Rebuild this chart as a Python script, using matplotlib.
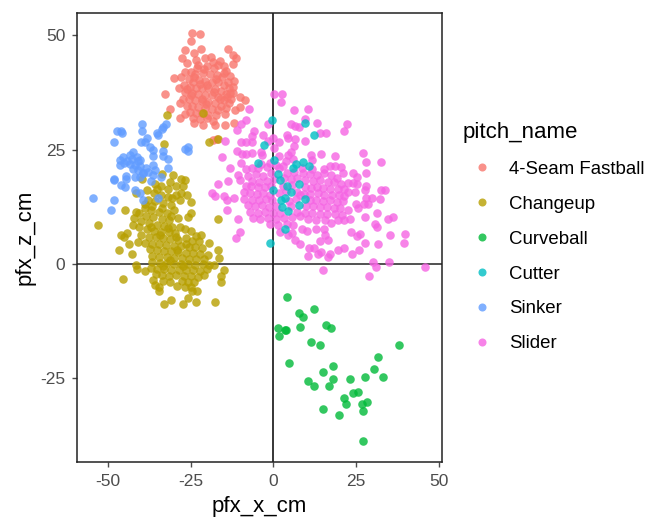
import matplotlib
matplotlib.use("Agg")
import matplotlib.pyplot as plt
from matplotlib.lines import Line2D

plt.rcParams['font.family'] = ['Liberation Sans', 'DejaVu Sans']
plt.rcParams['axes.unicode_minus'] = False

pitch_names = ["4-Seam Fastball", "Changeup", "Curveball", "Cutter", "Sinker", "Slider"]
colors = ["#F8766D", "#B79F00", "#00BA38", "#00BFC4", "#619CFF", "#F564E3"]
x_ticks = [-50, -25, 0, 25, 50]
y_ticks = [-25, 0, 25, 50]

fastball = [(-24.5,50.6),(-22.2,50.3),(-25,48.7),(-26.8,46.7),(-21.8,47),(-13.6,47),(-27.7,45),(-26,43.9),(-24,46.1),(-23.4,44.6),
(-12.3,45.7),(-11.3,45),(-12.3,43.8),(-29.9,40.7),(-28,41),(-26.7,41.9),(-32.6,37.2),(-28.6,38.4),(-28.2,35.2),(-31.2,33.9),
(-28.1,31.9),(-26.6,32.8),(-24,30.9),(-22.2,31.7),(-21.3,30.3),(-18.1,31.3),(-17.6,30.3),(-14.5,30.3),(-11.8,30.9),(-14.6,32.8),
(-10.1,36.5),(-8.5,35.8),(-10.1,34.4),(-11.6,33.7),(-17.1,27.3),(-18.2,27.2),(-20.5,45),(-18.7,45.2),(-16,44.4),(-15,43.3),
(-22.6,43.6),(-19.9,43.2),(-17.8,42.9),(-14.2,42.2),(-13,41.2),(-12,40.1),(-24.9,42.1),(-23.5,41.6),(-21.2,41.8),(-19.1,41.5),
(-17.1,41.3),(-15.4,40.9),(-13.7,39.9),(-12.2,38.8),(-25.6,40.4),(-24.1,39.9),(-22.4,40.3),(-20.6,40.1),(-18.6,39.9),(-16.6,39.8),
(-15,39.2),(-13.4,38.4),(-12.2,37.3),(-27.1,39.2),(-25.3,38.8),(-23.3,38.6),(-21.4,38.6),(-19.6,38.4),(-17.6,38.3),(-15.8,37.9),
(-14.3,37.1),(-12.9,36.2),(-26.7,37.6),(-24.4,37.4),(-22.6,37.2),(-20.5,37),(-18.6,36.9),(-16.8,36.6),(-15,35.9),(-13.4,35.2),
(-27.2,36),(-25.4,36.1),(-23.6,35.9),(-21.6,35.7),(-19.6,35.5),(-17.6,35.2),(-15.9,34.6),(-14.2,34.1),(-26.2,34.6),(-24.6,34.5),
(-22.7,34.3),(-20.6,34.1),(-18.6,33.9),(-16.7,33.6),(-25.2,33.3),(-23.3,33),(-21.4,33),(-19.6,32.7),(-17.4,32.6),(-23.1,42.8),
(-20.9,42.6),(-18.3,44.2),(-16.8,43.5),(-15,41.8),(-22,39.4),(-19.9,39.1),(-17.4,40.5),(-24.8,36.9),(-21.5,36.2),(-18,37.6),
(-26.1,38.2),(-23.9,40.8),(-20.4,34.9),(-16.1,36.1),(-14,36.5),(-13,37.5),(-24.1,32),(-20.1,31.9)]

changeup = [(-53.1,8.5),(-44.9,11.9),(-46.1,6.3),(-45.1,6),(-44.3,6.7),(-46.7,3),(-43.5,4.4),(-42.6,2.3),(-45.3,-3.2),(-41.5,-.2),
(-41.3,-1.1),(-38.9,-1.5),(-36.3,-3.5),(-35.8,-4.6),(-34.4,-5),(-34.4,-5.9),(-33.1,-8.8),(-30.8,-7.9),(-27.2,-8.8),(-25.9,-7.5),
(-23.2,-8.2),(-17.7,-8.2),(-24.5,-6),(-23,-5.8),(-29,-4.9),(-15.8,-3.9),(-15.8,-2.6),(-15,-1.2),(-20.8,-2.3),(-16.3,1.3),
(-16.8,3.1),(-19.8,2),(-19.4,4.7),(-21.4,3.4),(-21.7,6.3),(-16.8,9.9),(-24.9,13.5),(-29.9,11.9),(-24.9,11.1),(-26.2,15.1),
(-26.7,18.4),(-27.8,18.7),(-30.2,19.5),(-41.5,15.5),(-39.6,18.7),(-32.2,32.6),(-21.1,33.1),(-33.1,26.3),(-19.4,26.6),(-16.7,27.3),
(-33.6,19.6),(-31.2,18),(-35.8,17.5),(-33.9,17),(-31.8,16.4),(-29.5,17.1),(-38.1,16.2),(-36,15.6),(-34,15.2),(-31.9,14.7),
(-29.4,15.2),(-27.8,15.5),(-37.9,14.1),(-35.6,13.7),(-33.4,13.3),(-31,13),(-38.6,12.3),(-36.9,11.8),(-34.4,11.3),(-32.2,11.1),
(-40.5,11.1),(-38.4,10.6),(-36.4,10.2),(-33.6,9.8),(-31.4,9.6),(-28.8,10),(-25.7,10.3),(-42,10),(-39.9,9.5),(-37.4,9),
(-35.2,8.6),(-33.1,8.4),(-30.7,8.2),(-28.3,8),(-42.4,8.6),(-40.5,8),(-38.2,7.6),(-36,7.3),(-33.9,7.1),(-31.6,6.9),
(-29.6,6.7),(-26.7,7.7),(-25,7.2),(-23.3,6.2),(-39.9,6.3),(-37.6,6),(-35.5,5.9),(-33.4,5.6),(-31.1,5.4),(-28.8,5.3),
(-26.5,5.6),(-24.6,5),(-22.4,5.1),(-40.9,4.8),(-38.8,4.5),(-36.7,4.4),(-34.6,4.3),(-32.4,4.1),(-30.1,4),(-27.8,3.9),
(-25.6,3.8),(-23.6,3.7),(-37.3,3.2),(-35.1,3),(-33,2.9),(-30.8,2.8),(-28.7,2.6),(-26.5,2.5),(-24.3,2.5),(-22.2,2.2),
(-36.5,1.7),(-34.4,1.6),(-32.1,1.5),(-29.9,1.4),(-27.6,1.3),(-25.4,1.2),(-23.2,1.1),(-21,1),(-36.6,.4),(-34.3,.3),
(-32.2,.2),(-30.1,.1),(-27.8,.1),(-25.7,-.1),(-23.5,-.2),(-21.1,-.1),(-19.3,-.2),(-18,-.3),(-37,-.9),(-35,-1),
(-32.9,-1.1),(-30.8,-1.2),(-28.6,-1.2),(-26.5,-1.4),(-24.2,-1.4),(-22,-1.5),(-19.9,-1.1),(-35.5,-2.1),(-33.5,-2.4),(-31.4,-2.6),
(-29.3,-2.5),(-27,-2.7),(-24.9,-2.7),(-22.8,-2.8),(-33.4,-3.7),(-31.2,-3.9),(-27.7,-3.8),(-25.8,-4),(-23.9,-3.9),(-26.6,-5),
(-25,-5),(-38.7,13.1),(-36.7,12.7),(-33.7,12.3),(-30.7,14.5),(-28.3,13.9),(-27.2,17),(-35.2,16.4),(-41.4,11.4),(-37,8.1),(-31.9,7.8),
(-34.2,6.3),(-29.1,3.1),(-26.4,4.3),(-31.3,.9),(-27.3,-.4),(-33.2,-.5),(-29.4,6),(-30.9,10.6)]

curveball = [(4.1,-7.2),(7.8,-10.8),(9.1,-11.5),(12.3,-9.8),(1.4,-14.1),(3.5,-14.4),(3.8,-14.4),(1.8,-15.8),(8.2,-13.8),(15.9,-13.4),
(17.6,-14.1),(11.3,-17),(14.1,-17.7),(38.1,-17.7),(4.9,-21.7),(31.7,-20.3),(18.1,-22.3),(30.4,-23),(15,-23.6),(27.7,-24.7),
(33.1,-24.7),(23.1,-25.2),(18.1,-25.2),(10.5,-25.6),(12.3,-26.6),(16.8,-26.6),(25.5,-27.9),(24,-28.2),(21.3,-29.2),(21.9,-30.6),
(26.7,-30.6),(28.2,-30.2),(27.2,-32.2),(15,-31.8),(19.9,-33.1),(27.2,-38.8)]

cutter = [(-.4,31.5),(9.6,30.9),(12.3,28.2),(-2.7,26),(-4.5,22),(.3,22.7),(5.9,21),(6.8,21.8),(9.1,22.4),(10.9,21.4),
(1.4,19.7),(1.9,18.3),(4.1,17.1),(7.7,17.4),(0,16.1),(5.4,15.8),(3.7,14.5),(2.3,13.9),(9.5,14.2),(2.7,12.5),
(7.8,12.8),(4.5,11.5),(3.6,7.6),(-.9,4.6)]

sinker = [(-39.8,30.6),(-47.1,29),(-46,29),(-45.8,28.6),(-48.1,26.6),(-39.8,29.2),(-40,26.6),(-38.1,27.5),(-38.8,26.6),(-35.2,28.6),
(-34.9,28.2),(-33.7,29.6),(-32.4,30.6),(-33.2,30),(-37.1,25.7),(-36.3,24.9),(-36.3,23.7),(-33.4,24.7),(-33.4,23.7),(-31.7,23),
(-26.7,25.1),(-25.7,25.5),(-25.9,24.8),(-42.3,24.6),(-45.3,23.5),(-46.3,22.8),(-46.3,21.7),(-41.3,23.5),(-43.3,23.9),(-42.6,23),
(-44.2,22.6),(-41,22.5),(-40.3,22.8),(-43.4,21.9),(-41.9,21.6),(-40.4,21.5),(-45.1,22.1),(-42.5,20.8),(-40.9,20.5),(-38.3,20.9),
(-36.3,21.7),(-39.3,19.8),(-35.8,20.6),(-31.7,20.9),(-48.1,18.5),(-44.5,18.7),(-41.8,19.1),(-40.2,19.1),(-48,18.4),(-46.1,17.3),
(-44.8,16.8),(-39.5,19.8),(-36.9,18.2),(-34,19.1),(-41.8,16.2),(-54.4,14.5),(-48,14.1),(-49,11.8),(-34.9,14.5),(-39.3,14.1),
(-40.3,15.5),(-44.4,19.2),(-37.8,20.1),(-36.2,19.4)]

slider = [(.3,37.2),(2.8,37.2),(2.3,35.5),(6.3,33.6),(10.5,33.9),(-7.2,33.9),(-8.2,31.5),(-9.6,30.6),(-10.9,29.3),(-1.5,30.6),
(5.4,30.6),(6.5,30.2),(7.8,29.9),(9.6,31.7),(13.2,30.9),(22.3,30.6),(21.3,29),(14.1,28.6),(15.9,28.6),(9.6,26.9),
(-5.8,29),(-6.5,27.9),(-3.1,28.2),(0,27.5),(4.1,28.2),(4.5,27.5),(6.7,27.4),(-14.5,26.9),(-9.6,26.6),(-8.1,26.6),
(-6.5,26.6),(-1.5,26.9),(1.8,26.6),(6.3,25.9),(.2,25.3),(-10.9,24.7),(-9.3,24),(-8.1,24),(-6.4,24.3),(-3.7,24.6),
(-3.5,23.9),(5.5,24.6),(4.5,23.9),(11.4,23.9),(14.5,24),(18.6,23.7),(27.2,24.3),(28.1,22.4),(32.6,22.4),(-15.4,23.3),
(-13.1,21.1),(-9.6,22),(-8.1,20.8),(-6.5,20.9),(-1,22.2),(3,21.4),(11.6,22.8),(17.1,21.4),(18.6,21.4),(20.4,21.3),
(21.1,19.8),(24.2,19.8),(28.1,19.8),(-10.5,19.5),(-10,18.4),(-13.6,18.1),(-16.7,17.4),(-18.6,15.5),(-17.6,14.9),(-15,14.9),
(-14.1,13.9),(-11.8,14.5),(-14.1,11.9),(-10.5,9.9),(-10,7),(-11.4,5.7),(25.2,19.1),(22.7,17.8),(24.2,17.7),(25.2,17.4),
(28.1,17.1),(27.7,16.2),(32.6,16.1),(33.7,16.1),(24.7,15.8),(22.7,15.7),(32.2,14.2),(29.9,14.5),(28.1,14.5),(28.7,13.2),
(27.5,13.2),(24.9,13.2),(25.5,12.2),(22.7,11.9),(31.4,11.2),(27.7,10.3),(36.3,10.3),(34.8,9.9),(23.3,9.9),(21.5,9.6),
(19.6,9.6),(17.6,8.9),(30.8,8.7),(31.5,8),(23.5,7),(26.2,6.6),(25.2,6.2),(39.8,6.6),(35.3,6.3),(39.5,4.7),
(27.7,4.7),(31.7,4.3),(25.9,3),(21.3,3.4),(19.6,3.1),(23.7,2.3),(17.1,2.3),(16.4,1.6),(14.5,2.7),(13.4,2.3),
(12.3,3.6),(10.8,3.4),(10.4,1.7),(16.4,5.3),(14.1,5),(15.2,7.7),(15.6,6.3),(8.1,4.3),(6.5,5.3),(4.5,6.3),
(5.7,6.7),(2,7),(8.6,7.7),(10.1,7.3),(12.9,7.7),(30,.4),(31.2,-.6),(34.9,.4),(45.8,-.6),(29,-2.6),(14.9,-1.3),
(-7.5,19.2),(-5.2,19.6),(-3,19.3),(-.7,20),(1.6,20.9),(4.3,20),(6.4,20.1),(8.9,19.9),(11,19.7),(13.2,19.5),(15.4,19.8),(17.6,19.5),(19.4,18.8),
(-6.3,18.2),(-4.2,18),(-2,18.2),(.3,18.6),(3.2,18.9),(5.4,18.6),(7.2,18.9),(9.6,18.3),(12,18.1),(14.1,18.3),(16.4,17.9),(18.4,17.9),(20.6,17.6),
(-8.3,17.1),(-6.7,17),(-4.7,16.8),(-2.6,16.9),(-.8,17.1),(2.9,17),(5.8,17.2),(9.5,16.9),(11.4,16.7),(13.3,16.9),(15.1,16.6),(17.2,16.5),(19.6,16.3),(21.3,16.4),
(-8.8,15.7),(-7,15.5),(-5,15.4),(-3,15.6),(-1,15.2),(1.7,15.5),(3.8,15.9),(7.2,15.7),(9.3,15.4),(11.2,15.3),(13.4,15.5),(15.4,15.1),(17.7,15.2),(19.8,15),(21.5,14.8),
(-8.7,14.2),(-6.4,14),(-4.3,14.1),(-2.2,14.2),(-.4,13.9),(4.8,13.7),(6.8,14.2),(8.2,15),(11,13.9),(13,14),(15.1,13.8),(17.2,13.9),(19.4,13.6),(21,13.8),
(-7.6,12.9),(-5.5,12.7),(-3.3,12.8),(-1.2,12.5),(.9,12.6),(5.3,12.7),(9.9,12.7),(11.9,12.6),(14.1,12.4),(16.2,12.5),(18.4,12.3),(20.3,12.2),
(-6.9,11.4),(-4.6,11.2),(-2.4,11.3),(-.1,11.1),(2.1,11.2),(7.3,11.3),(9.6,11.2),(11.8,11.1),(14.2,11),(16.2,11),(18.6,10.9),(20.8,10.8),
(-6,10),(-4,9.8),(-1.6,10),(.8,9.8),(3.4,10.1),(5.6,10.2),(8.1,10.4),(10.4,9.9),(13,9.6),(15.6,9.7),(-1,8.8),(1.3,8.6),(4.2,8.8),(6.1,8.5),
(-2,21.2),(.7,21.6),(3.9,22.6),(6.1,23),(1.6,23.6),(8.6,21.1),(11.7,20.8),(15.4,20.7),(-4.6,20.9),(-3.7,21.9)]

series = [fastball, changeup, curveball, slider, sinker, cutter]
series_idx = [0, 1, 2, 5, 4, 3]

W, H = 654, 526
fig = plt.figure(figsize=(W / 100, H / 100), dpi=100)
ax = fig.add_axes([77 / W, 1 - 462 / H, (442 - 77) / W, (462 - 13) / H])

ax.axhline(0, color="#222222", lw=1.1, zorder=1)
ax.axvline(0, color="black", lw=1.1, zorder=1)

for pts, i in zip(series, series_idx):
    ax.scatter([p[0] for p in pts], [p[1] for p in pts], s=38, color=colors[i],
               alpha=0.8, linewidths=0, zorder=2 + (i == 3))

ax.set_xlim(-59.3, 51)
ax.set_ylim(-43.3, 54.9)
ax.set_xticks(x_ticks)
ax.set_yticks(y_ticks)
ax.tick_params(colors="#4D4D4D", labelsize=12.5, length=3.5, width=1, pad=5)
for s in ax.spines.values():
    s.set_linewidth(1.1)
    s.set_color("#222222")
ax.set_xlabel("pfx_x_cm", fontsize=16, labelpad=5)
ax.set_ylabel("pfx_z_cm", fontsize=16, labelpad=3)

handles = [Line2D([], [], linestyle="", marker="o", markersize=5.8, markeredgewidth=0,
                  color=c, alpha=0.8) for c in colors]
leg = fig.legend(handles, pitch_names, title="pitch_name", loc="upper left",
                 bbox_to_anchor=(463 / W, 1 - 122 / H), frameon=False, fontsize=13.4,
                 title_fontsize=16, labelspacing=0.96, handletextpad=0.45,
                 borderaxespad=0, borderpad=0)
leg._legend_box.align = "left"

fig.savefig("out.png", dpi=100)
